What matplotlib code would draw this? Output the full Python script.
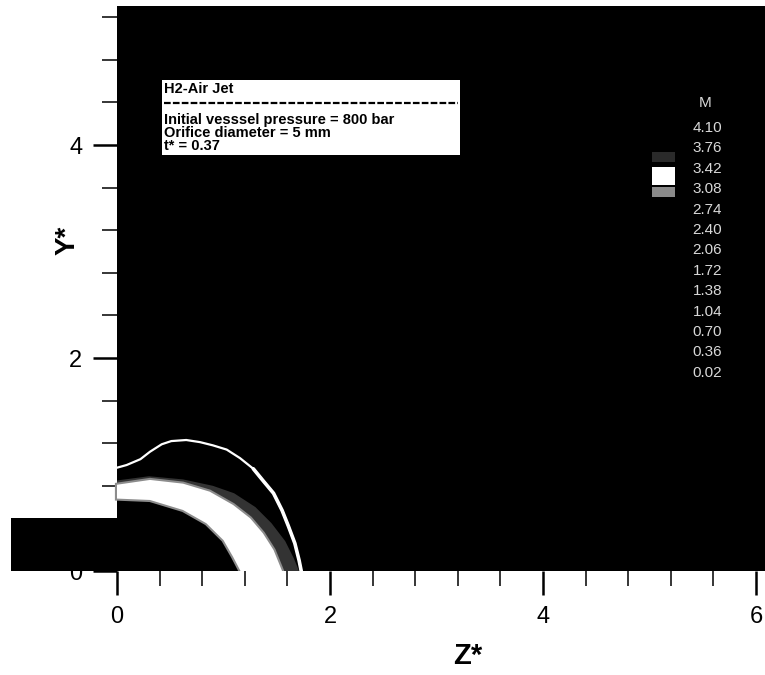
import numpy as np
import matplotlib
matplotlib.use("Agg")
import matplotlib.pyplot as plt
from matplotlib.patches import Rectangle
from matplotlib.lines import Line2D
from matplotlib.ticker import FixedLocator

plt.rcParams['font.family'] = ['Liberation Sans', 'DejaVu Sans']

# ---------------- data ----------------
# computational domain (Z*, Y*)
z_min, z_max, y_max = -1.0, 6.085, 5.31
nozzle_height = 0.5

# tick values
x_major = [0, 2, 4, 6]
y_major = [0, 2, 4]
x_minor = [0.4, 0.8, 1.2, 1.6, 2.4, 2.8, 3.2, 3.6, 4.4, 4.8, 5.2, 5.6]
y_minor = [0.4, 0.8, 1.2, 1.6, 2.4, 2.8, 3.2, 3.6, 4.4, 4.8, 5.2]

# Mach contour legend levels
levels = ["4.10", "3.76", "3.42", "3.08", "2.74", "2.40", "2.06",
          "1.72", "1.38", "1.04", "0.70", "0.36", "0.02"]

# leading shock front
shock_z = [0.00, 0.09, 0.22, 0.31, 0.42, 0.51, 0.65, 0.78, 0.90, 1.03,
           1.155, 1.28, 1.37, 1.47, 1.55, 1.61, 1.67, 1.71, 1.73]
shock_y = [0.97, 0.995, 1.05, 1.12, 1.19, 1.22, 1.23, 1.21, 1.18, 1.14,
           1.06, 0.96, 0.85, 0.73, 0.57, 0.42, 0.26, 0.10, 0.0]

# outer edge of the dim halo behind the shock
halo_z = [0.00, 0.30, 0.62, 0.90, 1.10, 1.30, 1.45, 1.58, 1.66, 1.71]
halo_y = [0.85, 0.89, 0.86, 0.80, 0.73, 0.60, 0.45, 0.28, 0.12, 0.0]

# bright band (outer and inner edges)
band_out_z = [0.00, 0.31, 0.62, 0.87, 1.09, 1.25, 1.37, 1.47, 1.55]
band_out_y = [0.81, 0.855, 0.82, 0.745, 0.62, 0.495, 0.354, 0.197, 0.0]
band_in_z = [0.00, 0.31, 0.62, 0.84, 1.00, 1.09, 1.16]
band_in_y = [0.68, 0.667, 0.573, 0.448, 0.29, 0.134, 0.0]

# annotation
title_line = "H2-Air Jet"
info_lines = ["Initial vesssel pressure = 800 bar",
              "Orifice diameter = 5 mm",
              "t* = 0.37"]

# ---------------- figure ----------------
W, H = 765, 675
fig = plt.figure(figsize=(W / 100, H / 100), dpi=100)
fig.patch.set_facecolor("white")


def fx(px):
    return px / W


def fy(py):
    return 1 - py / H


ax = fig.add_axes([fx(10.5), 104 / H, 754.5 / W, 565.5 / H])
ax.set_facecolor("white")
ax.set_xlim(z_min, z_max)
ax.set_ylim(0, y_max)

# domain
ax.add_patch(Rectangle((0, 0), z_max, y_max, facecolor="black",
                       edgecolor="none", zorder=3))
ax.add_patch(Rectangle((z_min, 0), -z_min, nozzle_height, facecolor="black",
                       edgecolor="none", zorder=3))

# jet structure
hz = np.concatenate([halo_z, band_in_z[::-1]])
hy = np.concatenate([halo_y, band_in_y[::-1]])
ax.fill(hz, hy, facecolor="#333333", edgecolor="none", zorder=4)
bz = np.concatenate([band_out_z, band_in_z[::-1]])
by = np.concatenate([band_out_y, band_in_y[::-1]])
ax.fill(bz, by, facecolor="white", edgecolor="#8c8c8c", linewidth=3,
        zorder=5)
ax.fill(bz, by, facecolor="white", edgecolor="none", zorder=5)
ax.plot(shock_z, shock_y, color="white", linewidth=1.6, zorder=6,
        solid_capstyle="round", solid_joinstyle="round")
ax.plot(shock_z[11:], shock_y[11:], color="white", linewidth=2.6, zorder=6,
        solid_capstyle="round", solid_joinstyle="round")

# axes styling
for s in ["top", "right"]:
    ax.spines[s].set_visible(False)
ax.spines["left"].set_position(("data", 0))
ax.spines["left"].set_visible(False)
ax.spines["bottom"].set_visible(False)

ax.set_xticks(x_major)
ax.set_yticks(y_major)
ax.xaxis.set_minor_locator(FixedLocator(x_minor))
ax.yaxis.set_minor_locator(FixedLocator(y_minor))
ax.tick_params(which="major", direction="out", length=17, width=1.8,
               pad=8, labelsize=17, color="black")
ax.tick_params(which="minor", direction="out", length=10.5, width=1.1,
               color="black")

# axis titles
fig.text(fx(468), fy(656), "Z*", ha="center", va="center",
         fontsize=21, fontweight="bold")
fig.text(fx(68), fy(240), "Y*", ha="center", va="center",
         fontsize=20, fontweight="bold", rotation=90)

# ---------------- annotation box ----------------
fig.patches.append(Rectangle((fx(162), fy(155)), fx(460) - fx(162),
                             fy(80) - fy(155), transform=fig.transFigure,
                             facecolor="white", edgecolor="none", zorder=10))
fig.text(fx(164), fy(93), title_line, ha="left", va="baseline",
         fontsize=10.5, fontweight="bold", zorder=11)
fig.lines.append(Line2D([fx(164), fx(458)], [fy(103), fy(103)],
                        transform=fig.transFigure, color="black",
                        linewidth=1.6, linestyle=(0, (3, 1)), zorder=11))
for i, line in enumerate(info_lines):
    fig.text(fx(164), fy(124 + 13 * i), line, ha="left", va="baseline",
             fontsize=10.5, fontweight="bold", zorder=11)

# ---------------- contour legend ----------------
fig.text(fx(705), fy(103), "M", ha="center", va="center",
         fontsize=11, color="#d8d8d8")
for i, lab in enumerate(levels):
    fig.text(fx(722), fy(128 + 20.4 * i), lab, ha="right", va="center",
             fontsize=11, color="#d8d8d8")
fig.patches.append(Rectangle((fx(652), fy(162)), 23 / W, 10 / H,
                             transform=fig.transFigure, facecolor="#2a2a2a",
                             edgecolor="none", zorder=10))
fig.patches.append(Rectangle((fx(652), fy(185)), 23 / W, 18 / H,
                             transform=fig.transFigure, facecolor="white",
                             edgecolor="none", zorder=10))
fig.patches.append(Rectangle((fx(652), fy(197)), 23 / W, 10 / H,
                             transform=fig.transFigure, facecolor="#8a8a8a",
                             edgecolor="none", zorder=10))

fig.savefig("out.png", dpi=100, facecolor="white")
